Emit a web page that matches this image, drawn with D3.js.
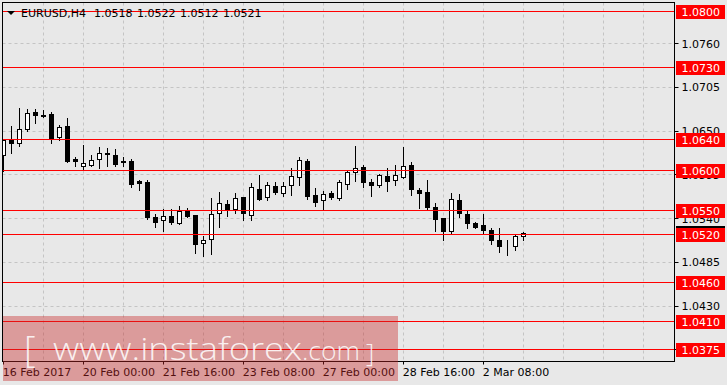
<!DOCTYPE html>
<html><head><meta charset="utf-8">
<script src="https://cdn.jsdelivr.net/npm/d3@7"></script>
<style>html,body{margin:0;padding:0;background:#e8e8e8;overflow:hidden}</style>
</head><body>
<svg id="chart" width="727" height="385"></svg>
<script>
// ---- data ----
const opens  = [1.0619,1.0639,1.0635,1.0652,1.0673,1.0670,1.0671,1.0642,1.0656,1.0614,
                1.0606,1.0607,1.0614,1.0622,1.0619,1.0612,1.0612,1.0586,1.0585,1.0541,
                1.0537,1.0542,1.0534,1.0549,1.0544,1.0509,1.0514,1.0546,1.0558,1.0551,
                1.0567,1.0544,1.0577,1.0566,1.0580,1.0572,1.0581,1.0592,1.0612,1.0569,
                1.0563,1.0571,1.0565,1.0583,1.0598,1.0604,1.0585,1.0582,1.0593,1.0588,
                1.0592,1.0607,1.0575,1.0573,1.0554,1.0540,1.0524,1.0563,1.0545,1.0534,
                1.0531,1.0525,1.0512,1.0506,1.0505,1.0518];
const highs  = [1.0638,1.0656,1.0678,1.0677,1.0677,1.0676,1.0673,1.0657,1.0666,1.0617,
                1.0632,1.0619,1.0629,1.0628,1.0627,1.0617,1.0614,1.0588,1.0588,1.0545,
                1.0551,1.0551,1.0555,1.0553,1.0544,1.0517,1.0565,1.0573,1.0563,1.0571,
                1.0567,1.0584,1.0594,1.0585,1.0585,1.0585,1.0603,1.0617,1.0614,1.0578,
                1.0574,1.0574,1.0588,1.0599,1.0631,1.0607,1.0589,1.0595,1.0603,1.0607,
                1.0629,1.0611,1.0578,1.0588,1.0559,1.0540,1.0572,1.0570,1.0549,1.0535,
                1.0545,1.0528,1.0528,1.0513,1.0519,1.0522];
const lows   = [1.0599,1.0622,1.0631,1.0649,1.0660,1.0667,1.0635,1.0638,1.0611,1.0605,
                1.0600,1.0605,1.0603,1.0605,1.0606,1.0606,1.0579,1.0575,1.0539,1.0529,
                1.0524,1.0533,1.0533,1.0541,1.0496,1.0492,1.0495,1.0529,1.0543,1.0547,
                1.0537,1.0537,1.0563,1.0563,1.0570,1.0568,1.0569,1.0582,1.0564,1.0555,
                1.0550,1.0564,1.0563,1.0577,1.0587,1.0579,1.0568,1.0579,1.0574,1.0582,
                1.0591,1.0569,1.0553,1.0550,1.0524,1.0512,1.0520,1.0541,1.0528,1.0527,
                1.0520,1.0507,1.0497,1.0494,1.0500,1.0512];
const closes = [1.0638,1.0635,1.0652,1.0672,1.0670,1.0668,1.0641,1.0654,1.0612,1.0612,
                1.0609,1.0613,1.0622,1.0620,1.0608,1.0610,1.0583,1.0584,1.0541,1.0535,
                1.0543,1.0535,1.0549,1.0543,1.0507,1.0513,1.0545,1.0559,1.0551,1.0565,
                1.0546,1.0579,1.0564,1.0581,1.0573,1.0580,1.0593,1.0613,1.0568,1.0560,
                1.0570,1.0567,1.0585,1.0598,1.0603,1.0585,1.0582,1.0594,1.0587,1.0594,
                1.0606,1.0576,1.0571,1.0554,1.0539,1.0524,1.0564,1.0546,1.0534,1.0529,
                1.0525,1.0513,1.0505,1.0506,1.0517,1.0521];
const levels = [1.0800,1.0730,1.0640,1.0600,1.0550,1.0520,1.0460,1.0410,1.0375];
const priceTicks = [1.0760,1.0705,1.0650,1.0595,1.0540,1.0485,1.0430,1.0375];
const timeLabels = ["16 Feb 2017","20 Feb 00:00","21 Feb 16:00","23 Feb 08:00","27 Feb 00:00","28 Feb 16:00","2 Mar 08:00"];
const timeLabelBars = [0,10,20,30,40,50,60];
const gridBars = d3.range(5, 81, 5);
const symbol = "EURUSD,H4";
const lastBid = 1.0521;

// ---- scales ----
const plot = {left: 2.5, right: 674.5, top: 2.5, bottom: 361.5};
const x = d3.scaleLinear().domain([0, 84]).range([3.3, 3.3 + 84 * 8]);
const y = d3.scaleLinear().domain([1.0375, 1.0800]).range([349.3, 11.3]);
const px = v => Math.round(v) + 0.5;

const svg = d3.select("#chart");
svg.append("rect").attr("width", 727).attr("height", 385).attr("fill", "#e8e8e8");

// grid
const grid = svg.append("g").attr("stroke", "#c4c4c4").attr("stroke-width", 1).attr("stroke-dasharray", "3,3");
grid.selectAll("line.h").data(priceTicks).join("line")
  .attr("x1", plot.left).attr("x2", plot.right)
  .attr("y1", d => px(y(d))).attr("y2", d => px(y(d)));
grid.selectAll("line.v").data(gridBars).join("line")
  .attr("class", "v")
  .attr("x1", d => px(x(d))).attr("x2", d => px(x(d)))
  .attr("y1", plot.top).attr("y2", plot.bottom);

// candles
const bars = d3.range(opens.length).map(i => ({i, o: opens[i], h: highs[i], l: lows[i], c: closes[i]}));
const cg = svg.append("g").attr("clip-path", "url(#clipPlot)");
svg.append("clipPath").attr("id", "clipPlot").append("rect")
  .attr("x", plot.left).attr("y", plot.top).attr("width", plot.right - plot.left).attr("height", plot.bottom - plot.top);
cg.selectAll("line.wick").data(bars).join("line")
  .attr("x1", d => px(x(d.i))).attr("x2", d => px(x(d.i)))
  .attr("y1", d => Math.round(y(d.h))).attr("y2", d => Math.round(y(d.l)) + 1)
  .attr("stroke", "#000").attr("stroke-width", 1);
cg.selectAll("rect.body").data(bars).join("rect")
  .attr("x", d => px(x(d.i)) - 2)
  .attr("y", d => px(y(Math.max(d.o, d.c))))
  .attr("width", 4)
  .attr("height", d => Math.max(0, Math.round(y(Math.min(d.o, d.c))) - Math.round(y(Math.max(d.o, d.c)))))
  .attr("fill", d => d.c >= d.o ? "#ffffff" : "#000000")
  .attr("stroke", "#000").attr("stroke-width", 1);

// red level lines
svg.append("g").selectAll("line").data(levels).join("line")
  .attr("x1", plot.left).attr("x2", plot.right)
  .attr("y1", d => px(y(d))).attr("y2", d => px(y(d)))
  .attr("stroke", "#ff0000").attr("stroke-width", 1);

// border
svg.append("rect").attr("x", plot.left).attr("y", plot.top)
  .attr("width", plot.right - plot.left).attr("height", plot.bottom - plot.top)
  .attr("fill", "none").attr("stroke", "#000").attr("stroke-width", 1);

// price axis
const ya = svg.append("g");
ya.selectAll("line").data(priceTicks).join("line")
  .attr("x1", plot.right).attr("x2", plot.right + 4)
  .attr("y1", d => px(y(d))).attr("y2", d => px(y(d)))
  .attr("stroke", "#000");
ya.selectAll("text").data(priceTicks).join("text")
  .attr("x", 681.5).attr("y", d => y(d) + 4.5)
  .attr("font-family", "DejaVu Sans, sans-serif").attr("font-size", 11).attr("fill", "#000")
  .text(d => d.toFixed(4));

// bid box (mostly hidden)
svg.append("rect").attr("x", 676).attr("y", Math.round(y(lastBid)) - 7).attr("width", 49).attr("height", 14).attr("fill", "#000");

// level labels
const lab = svg.append("g").selectAll("g").data(levels).join("g");
lab.append("rect").attr("x", 676).attr("y", d => Math.round(y(d)) - 6).attr("width", 49).attr("height", 14).attr("fill", "#ff0000");
lab.append("text").attr("x", 681.5).attr("y", d => Math.round(y(d)) + 5)
  .attr("font-family", "DejaVu Sans, sans-serif").attr("font-size", 11).attr("fill", "#fff")
  .text(d => d.toFixed(4));

// title
svg.append("path").attr("d", "M7,11 L15,11 L11,15 Z").attr("fill", "#000");
const titleParts = [symbol].concat([opens[65], highs[65], lows[65], closes[65]].map(v => v.toFixed(4)));
const titleX = [21, 94, 137, 180, 223];
svg.append("g").selectAll("text").data(titleParts).join("text")
  .attr("x", (d, i) => titleX[i]).attr("y", 16.5)
  .attr("font-family", "DejaVu Sans, sans-serif").attr("font-size", 11).attr("fill", "#000")
  .text(d => d);

// time axis
const xa = svg.append("g");
xa.selectAll("line").data(timeLabelBars).join("line")
  .attr("x1", d => px(x(d))).attr("x2", d => px(x(d)))
  .attr("y1", plot.bottom).attr("y2", plot.bottom + 3)
  .attr("stroke", "#000");
xa.selectAll("text").data(timeLabels).join("text")
  .attr("x", (d, i) => x(timeLabelBars[i]) - 0.5).attr("y", 376)
  .attr("font-family", "DejaVu Sans, sans-serif").attr("font-size", 11).attr("fill", "#000")
  .text(d => d);

// watermark
const wm = svg.append("g");
wm.append("rect").attr("x", 3).attr("y", 316).attr("width", 395).attr("height", 65)
  .attr("fill", "rgb(200,40,40)").attr("fill-opacity", 0.4);
const wf = "'Open Sans', 'Liberation Sans', sans-serif";
wm.append("text").attr("x", 24).attr("y", 362).attr("font-family", wf).attr("font-weight", 300)
  .attr("font-size", 36).attr("fill", "#fff").attr("fill-opacity", 0.85).text("[");
wm.append("text").attr("x", 53).attr("y", 360).attr("font-family", wf).attr("font-weight", 300)
  .attr("font-size", 32).attr("fill", "#fff").attr("fill-opacity", 0.85)
  .attr("textLength", 249).attr("lengthAdjust", "spacingAndGlyphs").text("www.instaforex");
wm.append("text").attr("x", 302).attr("y", 360).attr("font-family", wf).attr("font-weight", 300)
  .attr("font-size", 25).attr("fill", "#fff").attr("fill-opacity", 0.85)
  .attr("textLength", 58).attr("lengthAdjust", "spacingAndGlyphs").text(".com");
wm.append("text").attr("x", 366).attr("y", 362).attr("font-family", wf).attr("font-weight", 300)
  .attr("font-size", 26).attr("fill", "#fff").attr("fill-opacity", 0.85).text("]");
</script>
</body></html>
